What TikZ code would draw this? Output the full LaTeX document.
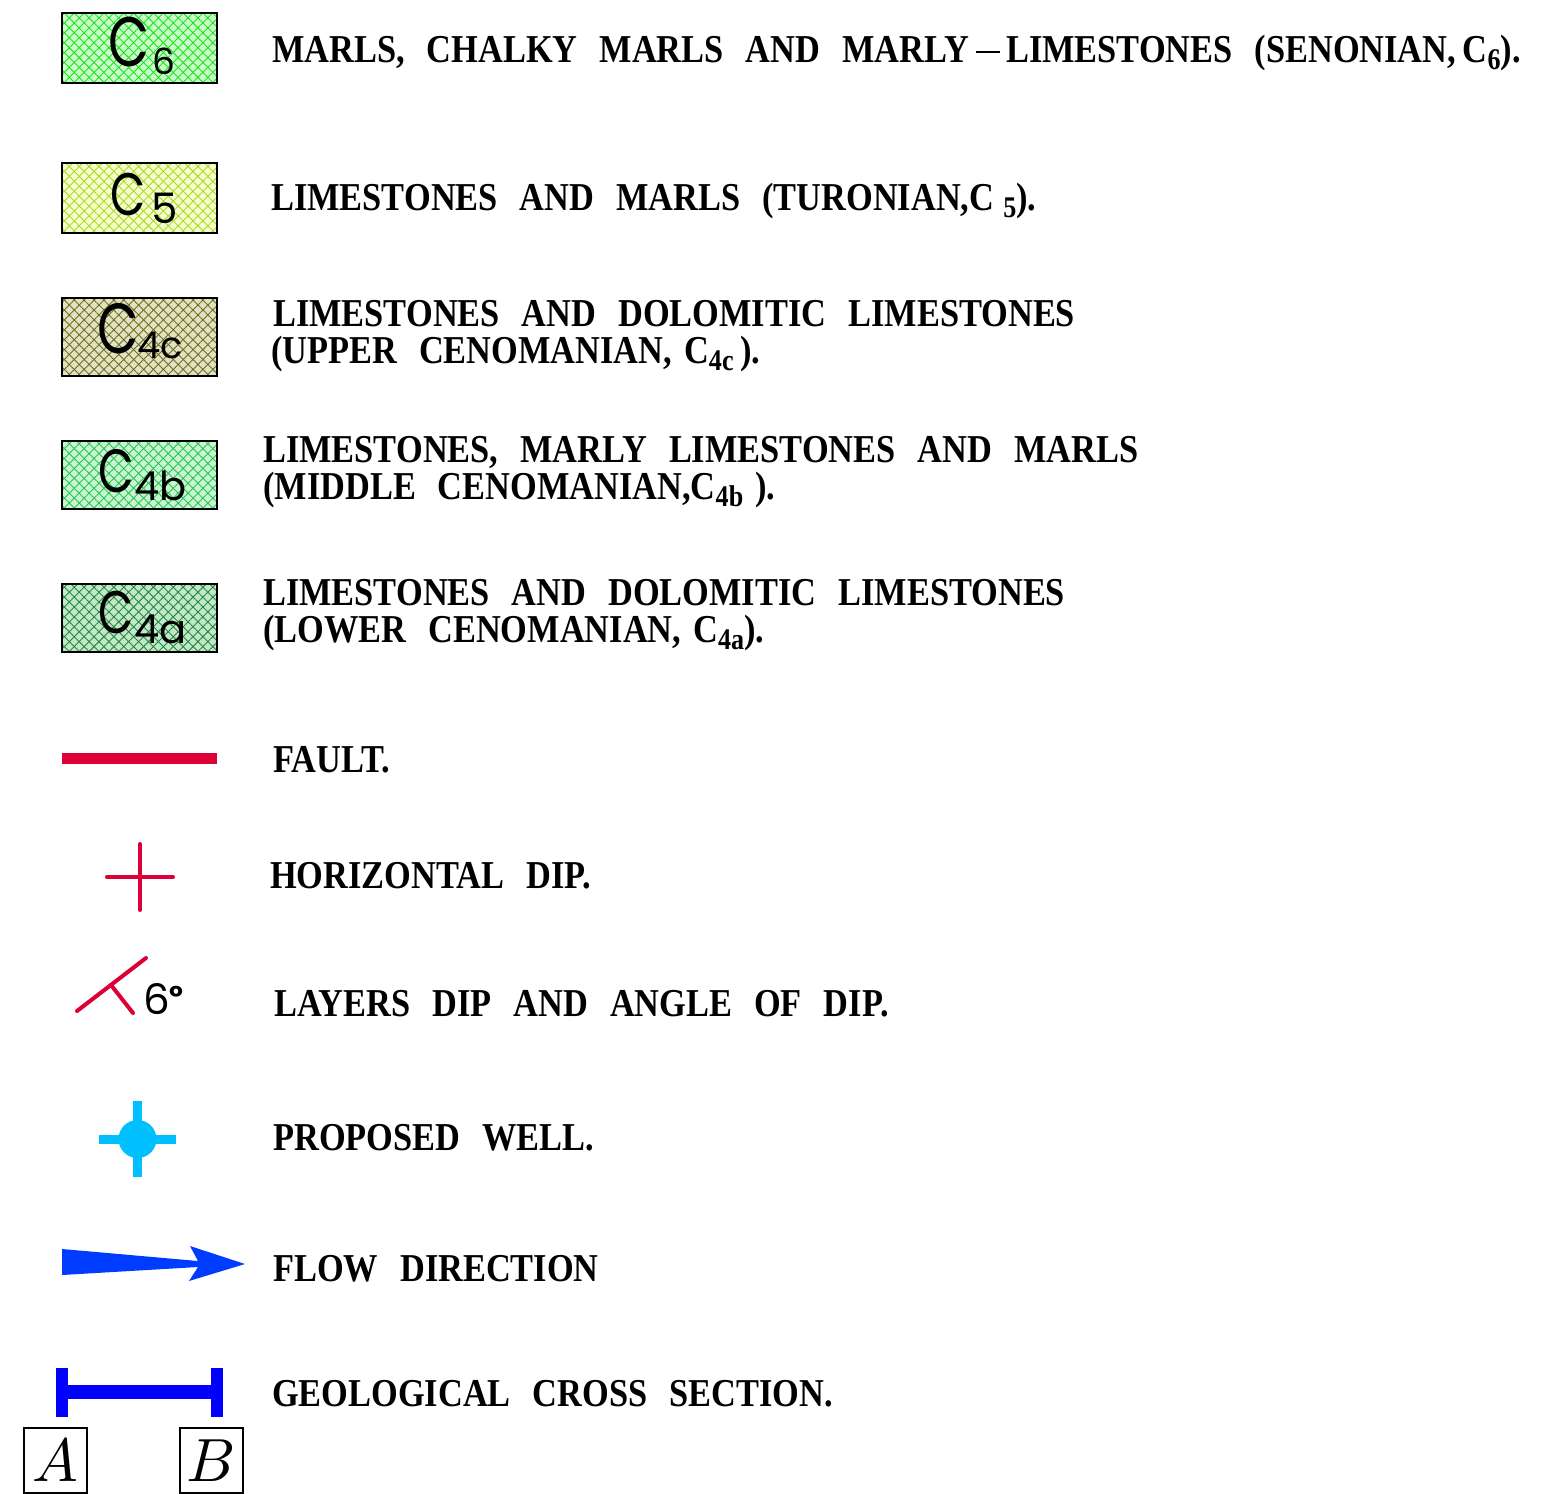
\documentclass[tikz,border=0pt]{standalone}
\usepackage{fontspec}
\usepackage{graphicx}
\usetikzlibrary{patterns.meta}
\newfontfamily\descfont{Liberation Serif}[FakeStretch=0.87]
\newfontfamily\labfont{Poppins}
\newcommand\descsetup{\descfont\bfseries\fontsize{39.5}{40}\selectfont\spaceskip 22pt\relax}
\newcommand\mysub[1]{\raisebox{-7pt}{\fontsize{30}{30}\selectfont #1}}
\newcommand\mydash{\,\rule[10pt]{24pt}{2.2pt}\,}
\newcommand\bigC[1]{\scalebox{0.76}[1]{\fontsize{#1}{#1}\selectfont C}}
\definecolor{faultred}{RGB}{220,0,55}
\definecolor{wellblue}{RGB}{0,191,255}
\definecolor{flowblue}{RGB}{0,60,255}
\definecolor{secblue}{RGB}{0,0,255}
\definecolor{bgsix}{RGB}{200,255,200}
\definecolor{lnsix}{RGB}{30,225,30}
\definecolor{bgfive}{RGB}{245,255,205}
\definecolor{lnfive}{RGB}{175,215,40}
\definecolor{bgfc}{RGB}{225,225,195}
\definecolor{lnfc}{RGB}{110,110,30}
\definecolor{bgfb}{RGB}{200,245,210}
\definecolor{lnfb}{RGB}{40,195,80}
\definecolor{bgfa}{RGB}{195,232,200}
\definecolor{lnfa}{RGB}{35,135,65}
\tikzset{
  desc/.style={anchor=base west, inner sep=0pt, font=\descsetup},
  swatch/.style n args={3}{draw=black, line width=1.6pt, inner sep=0pt,
    minimum width=155pt, minimum height=#3,
    preaction={fill=#1},
    preaction={pattern={Lines[angle=45,distance=7pt,line width=0.9pt]}, pattern color=#2},
    preaction={pattern={Lines[angle=-45,distance=7pt,line width=0.9pt]}, pattern color=#2}},
  lab/.style={anchor=base west, inner sep=0pt, font=\labfont\fontsize{#1}{#1}\selectfont},
  redline/.style={draw=faultred, line width=4pt, line cap=round},
  letterbox/.style={draw=black, line width=1.5pt, inner sep=0pt, minimum width=63pt,
    minimum height=65pt}
}
\begin{document}
\begin{tikzpicture}[x=1pt,y=-1pt]
\useasboundingbox[fill=white] (0,0) rectangle (1554,1493);

% ---------- swatches ----------
\node[swatch={bgsix}{lnsix}{70pt}] (s6) at (139.5,48) {};
\node[lab=70] (l6c) at (108,67) {\bigC{70}};
\node[lab=36] (l6s) at (152,75) {6};

\node[swatch={bgfive}{lnfive}{70pt}] (s5) at (139.5,198) {};
\node[lab=60] (l5c) at (110,215) {\bigC{60}};
\node[lab=42] (l5s) at (151,223) {5};

\node[swatch={bgfc}{lnfc}{78pt}] (s4c) at (139.5,337) {};
\node[lab=71] (l4cc) at (97,353) {\bigC{71}};
\node[lab=37] (l4cs) at (137,358) {4c};

\node[swatch={bgfb}{lnfb}{68pt}] (s4b) at (139.5,475) {};
\node[lab=61] (l4bc) at (98,492) {\bigC{61}};
\node[lab=40] (l4bs) at (134,500) {4b};

\node[swatch={bgfa}{lnfa}{68pt}] (s4a) at (139.5,618) {};
\node[lab=60] (l4ac) at (98,633) {\bigC{60}};
\node[lab=40] (l4as) at (134,643) {4a};

% ---------- descriptions ----------
\node[desc] (t6) at (272,63) {MARLS, CHALKY MARLS AND MARLY\mydash LIMESTONES (SENONIAN,\,C\mysub{6}).};
\node[desc] (t5) at (271,210) {LIMESTONES AND MARLS (TURONIAN,C\hspace{9pt}\mysub{5}).};
\node[desc] (t4c1) at (273,326) {LIMESTONES AND DOLOMITIC LIMESTONES};
\node[desc] (t4c2) at (271,363) {(UPPER CENOMANIAN,\hspace{12pt}C\mysub{4c}\,).};
\node[desc] (t4b1) at (263,462) {LIMESTONES, MARLY LIMESTONES AND MARLS};
\node[desc] (t4b2) at (263,499) {(MIDDLE CENOMANIAN,C\mysub{4b}\hspace{12pt}).};
\node[desc] (t4a1) at (263,605) {LIMESTONES AND DOLOMITIC LIMESTONES};
\node[desc] (t4a2) at (263,642) {(LOWER CENOMANIAN,\hspace{12pt}C\mysub{4a}).};
\node[desc] (tf) at (273,772) {FAULT.};
\node[desc] (th) at (270,888) {HORIZONTAL DIP.};
\node[desc] (tl) at (274,1016) {LAYERS DIP AND ANGLE OF DIP.};
\node[desc] (tw) at (273,1150) {PROPOSED WELL.};
\node[desc] (tfl) at (273,1281) {FLOW DIRECTION};
\node[desc] (ts) at (272,1406) {GEOLOGICAL CROSS SECTION.};

% ---------- fault ----------
\draw[faultred, line width=11pt] (62,758.5) -- (217,758.5);

% ---------- horizontal dip ----------
\draw[redline] (107,877) -- (173,877);
\draw[redline] (140,844) -- (140,910);

% ---------- layers dip ----------
\draw[redline] (77,1011) -- (146,958);
\draw[redline] (111,985) -- (133,1013);
\node[lab=42] (ang) at (143,1014) {6\raisebox{7pt}{\fontsize{30}{30}\selectfont\bfseries °}};

% ---------- proposed well ----------
\fill[wellblue] (99,1134.5) rectangle (176,1143.5);
\fill[wellblue] (133,1101) rectangle (142,1177);
\fill[wellblue] (137.5,1139) circle (19);

% ---------- flow direction ----------
\fill[flowblue] (62,1249) -- (198,1261) -- (190,1246) -- (245,1264) -- (189,1281)
  -- (198,1267) -- (62,1275) -- cycle;

% ---------- cross section ----------
\fill[secblue] (62,1385) rectangle (217,1399);
\fill[secblue] (56,1368) rectangle (68,1417);
\fill[secblue] (211,1368) rectangle (223,1417);
\node[letterbox] (A) at (55.5,1460.5) {\scalebox{6.1}{$A$}};
\node[letterbox] (B) at (211.5,1460.5) {\scalebox{6.1}{$B$}};
\end{tikzpicture}
\end{document}
